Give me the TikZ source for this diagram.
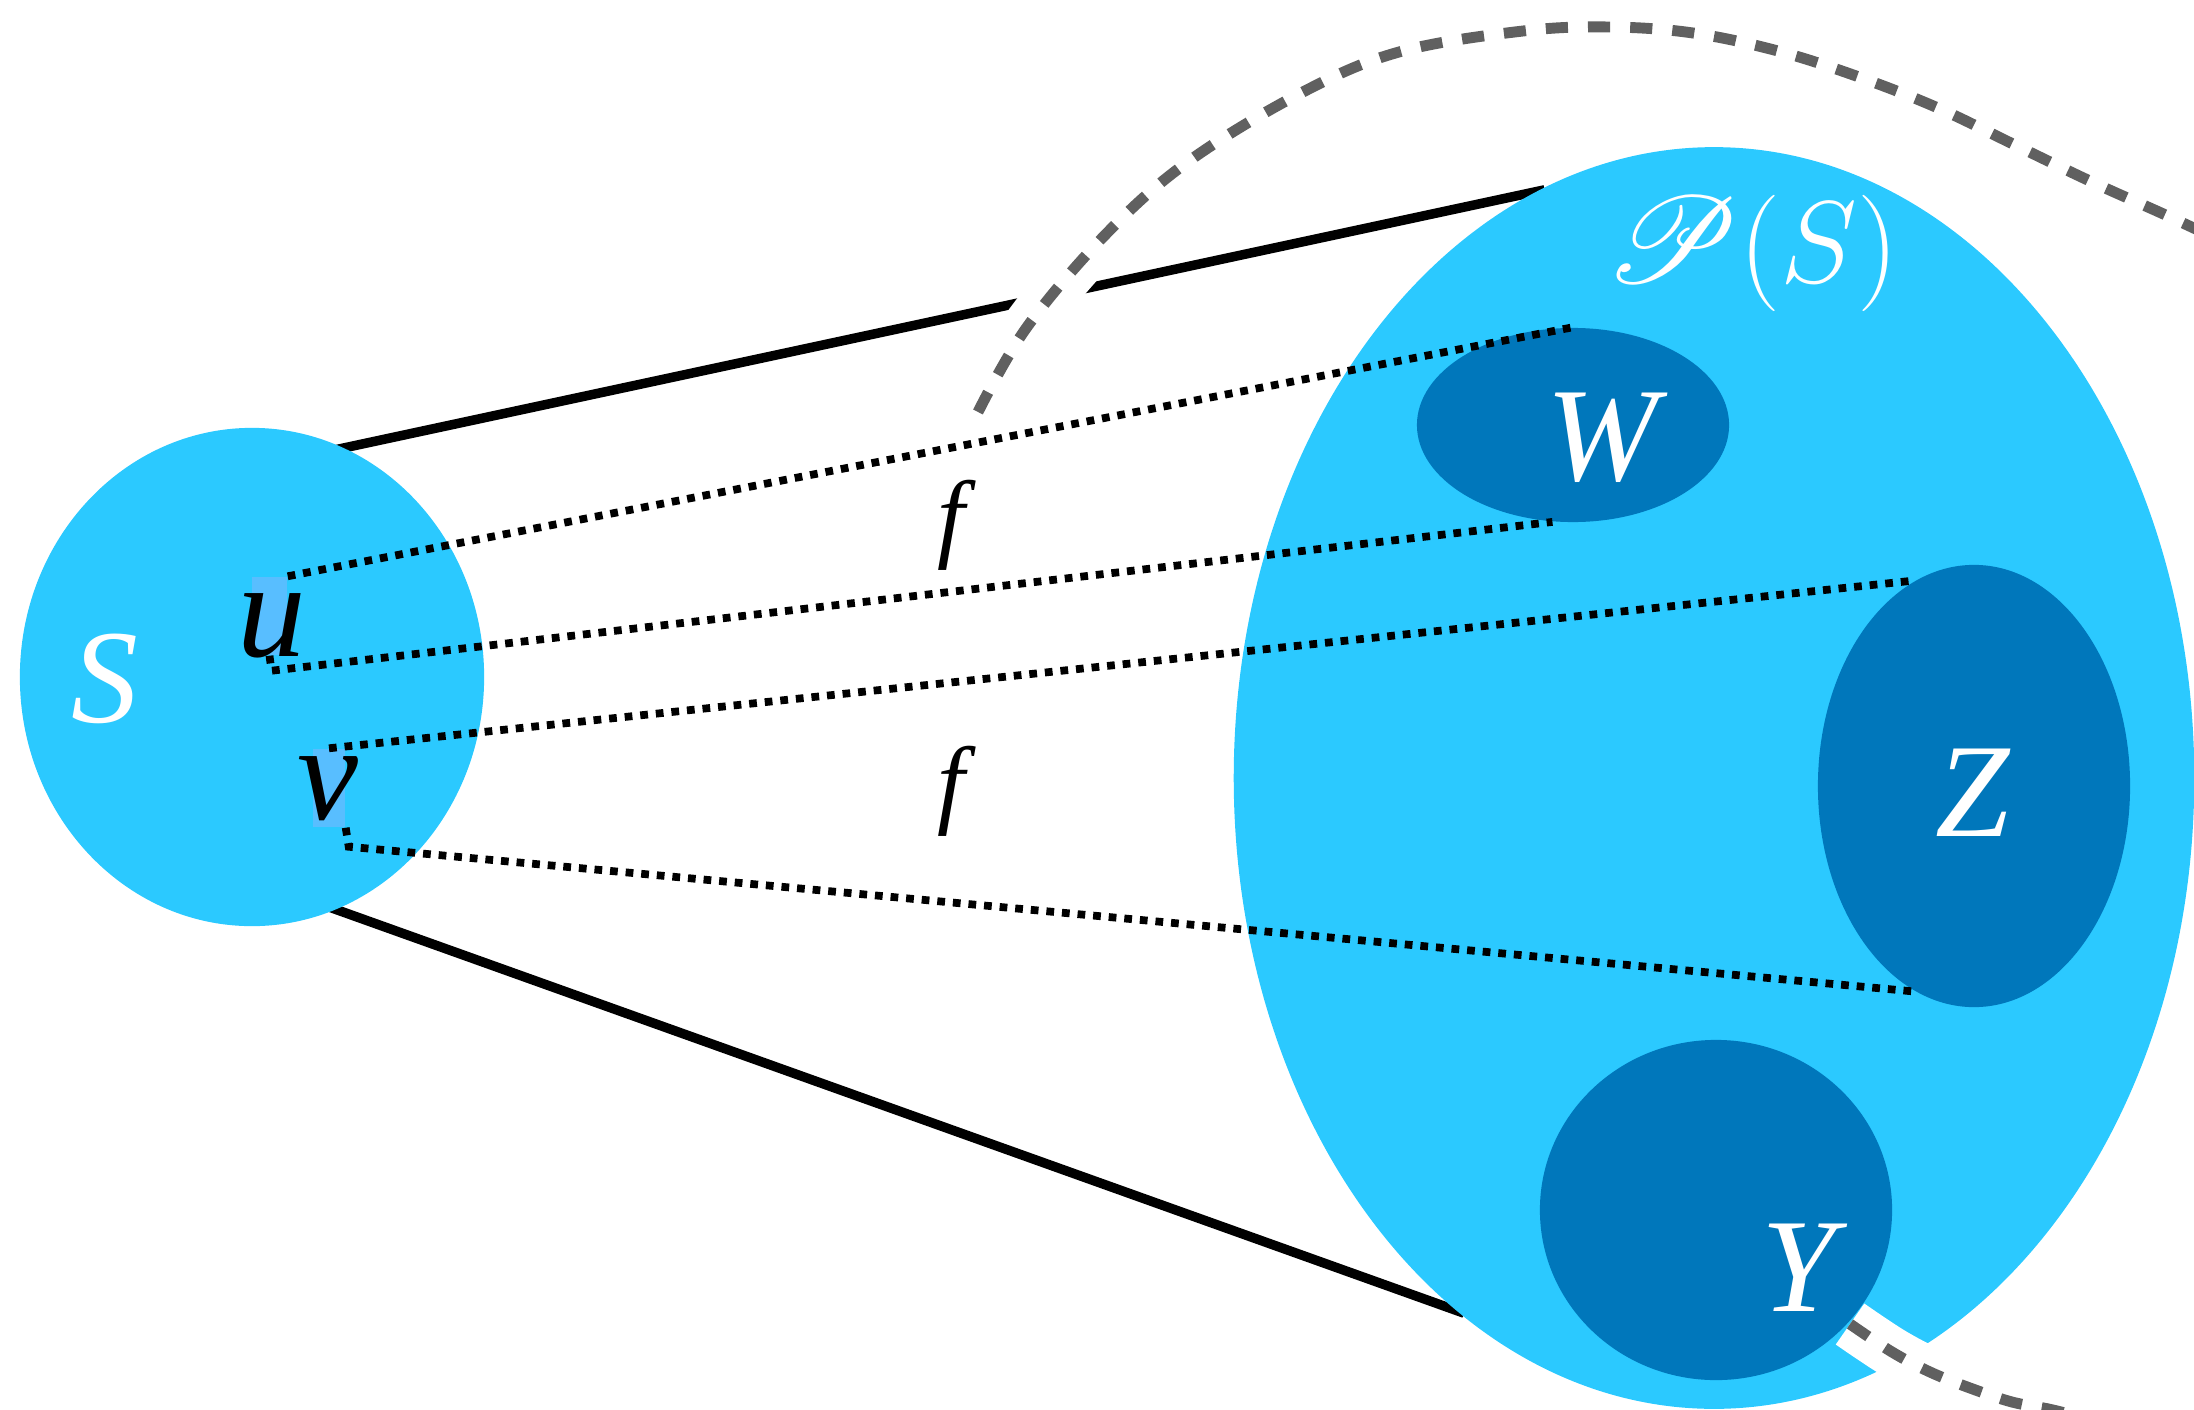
\documentclass[tikz,border=0pt]{standalone}
\usepackage{fontspec}
\setmainfont{Liberation Serif}
\usepackage{mathrsfs}
\usepackage{tikz}
\usetikzlibrary{shapes.geometric,backgrounds}

\definecolor{setblue}{HTML}{2BC9FF}
\definecolor{subblue}{HTML}{0077BB}
\definecolor{markblue}{HTML}{58BEFF}
\definecolor{arcgray}{HTML}{606060}

\tikzset{
  setfill/.style={ellipse, fill=setblue, inner sep=0pt},
  subset/.style={ellipse, fill=subblue, inner sep=0pt},
  lbl/.style={inner sep=0pt, text=white, font=\fontsize{38}{40}\selectfont\itshape},
  elem/.style={inner sep=0pt, font=\fontsize{39}{41}\selectfont\itshape},
  elembox/.style={rectangle, fill=markblue, inner sep=0pt},
  mapline/.style={line width=2.2pt, dash pattern=on 2.2pt off 2.25pt},
  hullline/.style={line width=2.7pt, shorten <=-0.1cm, shorten >=-0.1cm},
  bigarc/.style={arcgray, line width=3.1pt, dash pattern=on 6.3pt off 5.7pt,
    preaction={draw=white, solid, line width=14.2pt}}
}

\begin{document}
\begin{tikzpicture}[x=0.01cm, y=-0.01cm]
  \useasboundingbox (0,0) rectangle (2194,1409);
  \clip (0,0) rectangle (2194,1409);
  % the set and its power set
  \node[setfill, minimum width=4.64cm, minimum height=4.98cm] (S) at (252,677) {};
  \node[setfill, minimum width=9.6cm, minimum height=12.61cm] (P) at (1714,778) {};
  % subsets
  \node[subset, minimum width=3.12cm, minimum height=1.94cm] (W) at (1573,425) {};
  \node[subset, minimum width=3.12cm, minimum height=4.42cm] (Z) at (1974,786) {};
  \node[subset, minimum width=3.52cm, minimum height=3.40cm] (Y) at (1716,1210) {};
  % hull lines behind the sets
  \begin{scope}[on background layer]
    \draw[hullline] (S.68) -- (P.107);
    \draw[hullline] (S.290) -- (P.244);
  \end{scope}
  % elements u and v
  \node[elembox, minimum width=0.35cm, minimum height=0.78cm] (ubox) at (269.5,616) {};
  \node[elembox, minimum width=0.32cm, minimum height=0.78cm] (vbox) at (329,788) {};
  % f maps u to W, v to Z
  \draw[mapline] (ubox.north east) -- (W.north);
  \draw[mapline] (ubox.south) -- ++(2,15) -- (W.258);
  \draw[mapline] (vbox.north) -- (Z.106);
  \draw[mapline] (vbox.south east) -- ++(3,19) -- (Z.254);
  \node[elem] (u) at (272,626) {u};
  \node[elem] (v) at (327.5,789) {v};
  \node[elem, font=\fontsize{28}{30}\selectfont\itshape] (f1) at (951,525) {f};
  \node[elem, font=\fontsize{28}{30}\selectfont\itshape] (f2) at (951,791) {f};
  % labels
  \node[lbl] (Slbl) at (105,679) {S};
  \node[lbl] (Wlbl) at (1602,438) {W};
  \node[lbl] (Zlbl) at (1973,793) {Z};
  \node[lbl] (Ylbl) at (1799,1268) {Y};
  \node[lbl, font=\fontsize{24.88}{27}\selectfont] (Plbl) at (1752,253)
    {\scalebox{1.4}{$\mathscr{P}$}\scalebox{1.33}{$(S)$}};
  % outer dashed set
  \draw[bigarc] plot[smooth, tension=0.6] coordinates {(978,412) (1027,327) (1107,233)
    (1189,161) (1301,93) (1399,52) (1523,31) (1610,27) (1693,33) (1778,51) (1859,77)
    (1938,108) (2015,145) (2092,182) (2170,217) (2240,250)};
  \draw[bigarc] plot[smooth, tension=0.6] coordinates {(1850,1324) (1892,1352)
    (1930,1372) (1970,1388) (2012,1402) (2053,1410) (2110,1425)};
\end{tikzpicture}
\end{document}
